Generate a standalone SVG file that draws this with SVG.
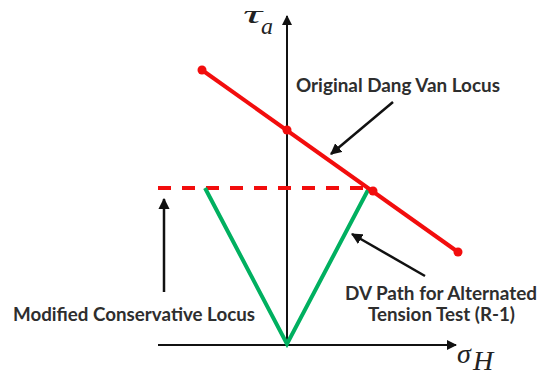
<svg xmlns="http://www.w3.org/2000/svg" width="540" height="377" viewBox="0 0 540 377">
<style>
.lbl{font-family:Lato,"Liberation Sans",sans-serif;font-weight:bold;font-size:18px;fill:#2e2e2e}
.math{font-family:"Liberation Serif","DejaVu Serif",serif;font-style:italic;fill:#222}
.axis{stroke:#111;stroke-width:2;fill:none}
.conn{stroke:#111;stroke-width:2.5;fill:none}
.red{stroke:#f20d0d;stroke-width:4;fill:none}
.green{stroke:#00b060;stroke-width:4;fill:none;stroke-linejoin:miter}
.dot{fill:#f20d0d}
</style>
<defs>
<marker id="ah" viewBox="0 0 10 10" refX="9" refY="5" markerWidth="4.5" markerHeight="4.5" orient="auto" markerUnits="strokeWidth">
<path d="M0,0 L10,5 L0,10 z" fill="#111"/>
</marker>
<marker id="axh" viewBox="0 0 10 10" refX="9" refY="5" markerWidth="5" markerHeight="5" orient="auto" markerUnits="strokeWidth">
<path d="M0,0 L10,5 L0,10 z" fill="#111"/>
</marker>
</defs>
<rect width="540" height="377" fill="#fff"/>
<g id="axes">
<line class="axis" x1="287" y1="345" x2="287" y2="16" marker-end="url(#axh)"/>
<line class="axis" x1="158" y1="345" x2="456" y2="345" marker-end="url(#axh)"/>
<text class="math" x="243" y="23" font-size="26" textLength="19" lengthAdjust="spacingAndGlyphs">τ</text>
<text class="math" x="261" y="34" font-size="24">a</text>
<text class="math" x="457" y="363" font-size="28">σ</text>
<text class="math" x="473" y="370" font-size="28">H</text>
</g>
<g id="modified-locus">
<line class="red" x1="158" y1="188" x2="373" y2="188" stroke-dasharray="13,11"/>
</g>
<g id="dv-path">
<polyline class="green" points="205,188 287,344 368,190"/>
</g>
<g id="dang-van-locus">
<line class="red" x1="202" y1="70" x2="458" y2="252"/>
<circle class="dot" cx="202" cy="70" r="4.5"/>
<circle class="dot" cx="287" cy="130" r="4.5"/>
<circle class="dot" cx="373" cy="191" r="4.5"/>
<circle class="dot" cx="458" cy="252" r="4.5"/>
</g>
<g id="label-original">
<text class="lbl" x="296" y="92" textLength="204" lengthAdjust="spacingAndGlyphs">Original Dang Van Locus</text>
</g>
<g id="label-modified">
<text class="lbl" x="13" y="321" textLength="242" lengthAdjust="spacingAndGlyphs">Modified Conservative Locus</text>
</g>
<g id="label-dv-path">
<text class="lbl" x="345" y="300" textLength="192" lengthAdjust="spacingAndGlyphs">DV Path for Alternated</text>
<text class="lbl" x="368" y="321" textLength="147" lengthAdjust="spacingAndGlyphs">Tension Test (R-1)</text>
</g>
<g id="connectors">
<line class="conn" x1="393" y1="102" x2="331" y2="154" marker-end="url(#ah)"/>
<line class="conn" x1="164" y1="292" x2="164" y2="199" marker-end="url(#ah)"/>
<line class="conn" x1="425" y1="276" x2="352" y2="234" marker-end="url(#ah)"/>
</g>
</svg>
